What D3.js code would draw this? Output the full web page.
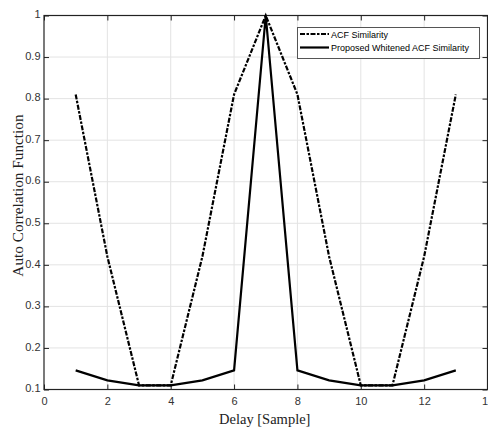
<!DOCTYPE html>
<html><head><meta charset="utf-8">
<script src="https://cdn.jsdelivr.net/npm/d3@7"></script>
<style>body{margin:0;background:#fff}svg{display:block}</style>
</head><body>
<script>
const delays = [1,2,3,4,5,6,7,8,9,10,11,12,13];
const acf = [0.81,0.42,0.11,0.11,0.42,0.81,1.0,0.81,0.42,0.11,0.11,0.42,0.81];
const whitened = [0.146,0.122,0.11,0.11,0.122,0.146,1.0,0.146,0.122,0.11,0.11,0.122,0.146];
const xTicks = [0,2,4,6,8,10,12,14];
const yTicks = [0.1,0.2,0.3,0.4,0.5,0.6,0.7,0.8,0.9,1];
const seriesNames = ["ACF Similarity","Proposed Whitened ACF Similarity"];

const W=488,H=432;
const L=44,R=487.5,T=15.5,B=389.5;
const svg=d3.select("body").append("svg").attr("width",W).attr("height",H);
const x=d3.scaleLinear().domain([0,14]).range([L,R]);
const y=d3.scaleLinear().domain([0.1,1]).range([B,T]);
const dash="5,1.5,2.5,1.5";
const tickFont="'Liberation Sans Narrow', Arial, 'Liberation Sans'";

// grid
svg.append("g").selectAll("line").data(xTicks.slice(1,-1)).join("line")
 .attr("x1",d=>x(d)).attr("x2",d=>x(d)).attr("y1",T).attr("y2",B)
 .attr("stroke","#e3e3e3").attr("stroke-width",1);
svg.append("g").selectAll("line").data(yTicks.slice(1,-1)).join("line")
 .attr("y1",d=>y(d)).attr("y2",d=>y(d)).attr("x1",L).attr("x2",R)
 .attr("stroke","#e3e3e3").attr("stroke-width",1);

// axes
const fmt=d=>d3.format("")(d);
const ax=(g)=>{g.select(".domain").remove();};
svg.append("g").attr("transform",`translate(0,${B})`)
 .call(d3.axisBottom(x).tickValues(xTicks).tickSizeInner(-5).tickSizeOuter(0).tickPadding(7.5).tickFormat(fmt)).call(ax)
 .call(g=>g.selectAll("text").attr("fill","#333").style("font-family",tickFont).style("font-size","11px"));
svg.append("g").attr("transform",`translate(0,${T})`)
 .call(d3.axisTop(x).tickValues(xTicks).tickSizeInner(-5).tickSizeOuter(0).tickFormat("")).call(ax);
svg.append("g").attr("transform",`translate(${L},0)`)
 .call(d3.axisLeft(y).tickValues(yTicks).tickSizeInner(-5).tickSizeOuter(0).tickPadding(3.5).tickFormat(fmt)).call(ax)
 .call(g=>g.selectAll("text").attr("fill","#333").attr("dy","0.2em").style("font-family",tickFont).style("font-size","11px"));
svg.append("g").attr("transform",`translate(${R},0)`)
 .call(d3.axisRight(y).tickValues(yTicks).tickSizeInner(-5).tickSizeOuter(0).tickFormat("")).call(ax);
svg.selectAll(".tick line").attr("stroke","#222");
svg.append("rect").attr("x",L).attr("y",T).attr("width",R-L).attr("height",B-T)
 .attr("fill","none").attr("stroke","#222").attr("stroke-width",1.2);

// lines
const line=d3.line().x(d=>x(d[0])).y(d=>y(d[1]));
svg.append("path").datum(delays.map((d,i)=>[d,acf[i]])).attr("d",line)
 .attr("fill","none").attr("stroke","#000").attr("stroke-width",2.2).attr("stroke-dasharray",dash);
svg.append("path").datum(delays.map((d,i)=>[d,whitened[i]])).attr("d",line)
 .attr("fill","none").attr("stroke","#000").attr("stroke-width",2.2);

// legend
const lg=svg.append("g");
lg.append("rect").attr("x",297.5).attr("y",27.5).attr("width",182).attr("height",31)
 .attr("fill","#fff").attr("stroke","#555").attr("stroke-width",1);
[0,1].forEach(i=>{
  const yy=34+i*13.5;
  lg.append("line").attr("x1",300).attr("x2",329).attr("y1",yy).attr("y2",yy)
   .attr("stroke","#000").attr("stroke-width",2.2).attr("stroke-dasharray",i===0?dash:null);
  lg.append("text").attr("x",331).attr("y",yy+3.5).text(seriesNames[i])
   .style("font-family","Arial, 'Liberation Sans'").style("font-size","9px").attr("fill","#000");
});

// labels
svg.append("text").attr("x",(L+R)/2-1).attr("y",424).attr("text-anchor","middle")
 .style("font-family","'Times New Roman','Liberation Serif',serif").style("font-size","14.5px").attr("fill","#222").text("Delay [Sample]");
svg.append("text").attr("transform",`translate(22.5,${(T+B)/2-7}) rotate(-90)`).attr("text-anchor","middle")
 .style("font-family","'Times New Roman','Liberation Serif',serif").style("font-size","15.3px").attr("fill","#222").text("Auto Correlation Function");
</script>
</body></html>
